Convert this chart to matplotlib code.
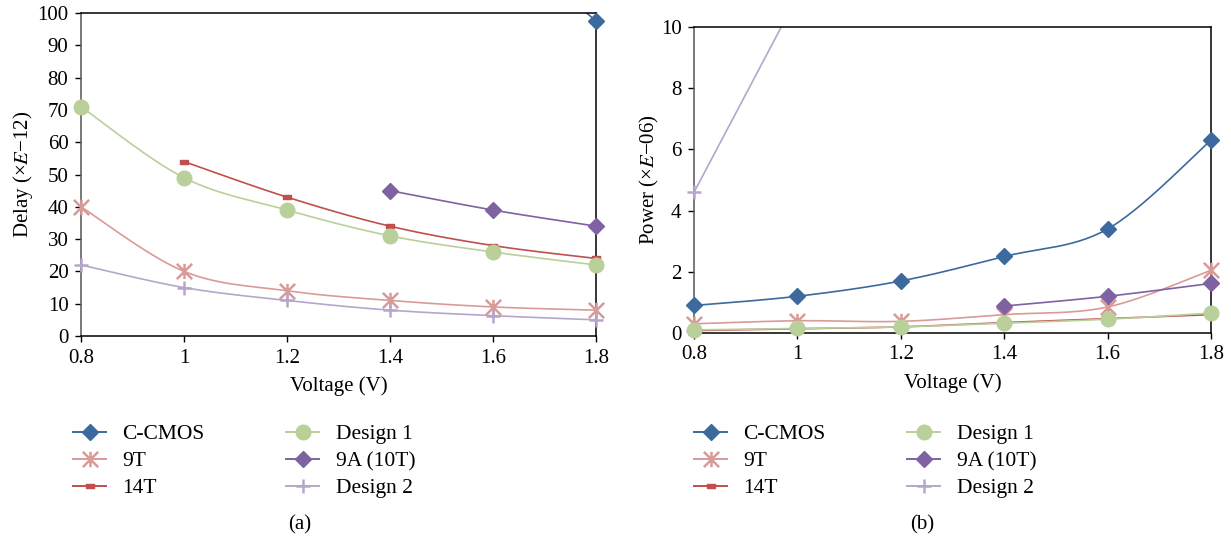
import numpy as np
import matplotlib
matplotlib.use("Agg")
import matplotlib.pyplot as plt
from matplotlib.path import Path

plt.rcParams['font.family'] = ['Liberation Serif', 'DejaVu Serif']
plt.rcParams['mathtext.fontset'] = 'stix'

voltage = [0.8, 1.0, 1.2, 1.4, 1.6, 1.8]
series = ['C-CMOS', '9T', '14T', 'Design 1', '9A (10T)', 'Design 2']

# delay (x E-12), None = no data point
delay = {
    'C-CMOS':   [None, None, None, None, 125, 97.5],
    '9T':       [40, 20, 14, 11, 9, 8],
    '14T':      [None, 54, 43, 34, 28, 24],
    'Design 1': [71, 49, 39, 31, 26, 22],
    '9A (10T)': [None, None, None, 45, 39, 34],
    'Design 2': [22, 15, 11, 8, 6.3, 5],
}

# power (x E-06)
power = {
    'C-CMOS':   [0.9, 1.2, 1.7, 2.5, 3.4, 6.3],
    '9T':       [0.3, 0.4, 0.38, 0.6, 0.85, 2.05],
    '14T':      [0.08, 0.14, 0.2, 0.34, 0.47, 0.6],
    'Design 1': [0.1, 0.15, 0.2, 0.32, 0.45, 0.65],
    '9A (10T)': [None, None, None, 0.88, 1.2, 1.62],
    'Design 2': [4.6, 11.0, None, None, None, None],
}

colors = {
    'C-CMOS': '#3C6A9E', '9T': '#D99A98', '14T': '#C0504D',
    'Design 1': '#B9D09A', '9A (10T)': '#7E62A1', 'Design 2': '#B6A6CB',
}

star = Path([(0, -1), (0, 1), (-1, -1), (1, 1), (-1, 1), (1, -1)],
            [Path.MOVETO, Path.LINETO] * 3)
dash = Path([(-1, -0.55), (1, -0.55), (1, 0.55), (-1, 0.55), (-1, -0.55)],
            [Path.MOVETO, Path.LINETO, Path.LINETO, Path.LINETO, Path.CLOSEPOLY])

mstyle = {
    'C-CMOS':   dict(marker='D', ms=8, mfc=colors['C-CMOS'], mec=colors['C-CMOS']),
    '9T':       dict(marker=star, ms=11, mfc='none', mec=colors['9T'], mew=1.8),
    '14T':      dict(marker=dash, ms=6, mfc=colors['14T'], mec=colors['14T']),
    'Design 1': dict(marker='o', ms=10.5, mfc=colors['Design 1'], mec=colors['Design 1']),
    '9A (10T)': dict(marker='D', ms=8, mfc=colors['9A (10T)'], mec=colors['9A (10T)']),
    'Design 2': dict(marker='+', ms=10, mfc='none', mec=colors['Design 2'], mew=1.8),
}

FS = 15


def smooth(xs, ys, n=30):
    # Catmull-Rom style smoothing like spreadsheet "smoothed line"
    xs = np.asarray(xs, float)
    ys = np.asarray(ys, float)
    if len(xs) < 3:
        return xs, ys
    px = np.concatenate([[xs[0]], xs, [xs[-1]]])
    py = np.concatenate([[ys[0]], ys, [ys[-1]]])
    outx, outy = [], []
    t = np.linspace(0, 1, n)
    for i in range(1, len(px) - 2):
        p0 = np.array([px[i], py[i]])
        p3 = np.array([px[i + 1], py[i + 1]])
        c1 = p0 + (np.array([px[i + 1], py[i + 1]]) - np.array([px[i - 1], py[i - 1]])) / 6
        c2 = p3 - (np.array([px[i + 2], py[i + 2]]) - np.array([px[i], py[i]])) / 6
        b = ((1 - t) ** 3)[:, None] * p0 + (3 * (1 - t) ** 2 * t)[:, None] * c1 \
            + (3 * (1 - t) * t ** 2)[:, None] * c2 + (t ** 3)[:, None] * p3
        outx.extend(b[:, 0])
        outy.extend(b[:, 1])
    return np.array(outx), np.array(outy)


def draw(ax, data, ymax):
    for name in series:
        pts = [(x, y) for x, y in zip(voltage, data[name]) if y is not None]
        xs = [p[0] for p in pts]
        ys = [p[1] for p in pts]
        sx, sy = smooth(xs, ys)
        ax.plot(sx, sy, color=colors[name], lw=1.2, zorder=2)
        vis = [p for p in pts if p[1] <= ymax]
        ax.plot([p[0] for p in vis], [p[1] for p in vis], ls='none', zorder=3,
                clip_on=False, **mstyle[name])


def style(ax):
    ax.set_xlim(0.8, 1.8)
    ax.set_xticks(voltage)
    ax.set_xticklabels(['0.8', '1', '1.2', '1.4', '1.6', '1.8'])
    ax.tick_params(direction='out', length=4, width=1, labelsize=FS, pad=5)
    for s in ax.spines.values():
        s.set_linewidth(1.1)
    ax.spines['left'].set_color('#555555')
    ax.set_xlabel('Voltage (V)', fontsize=FS, labelpad=6)


fig = plt.figure(figsize=(12.31, 5.39), dpi=100)
ax1 = fig.add_axes([0.0658, 0.3766, 0.4184, 0.5993])
ax2 = fig.add_axes([0.5638, 0.3822, 0.4200, 0.5677])

draw(ax1, delay, 100)
style(ax1)
ax1.set_ylim(0, 100)
ax1.set_yticks(range(0, 101, 10))
ax1.set_ylabel('Delay (×$E$−12)', fontsize=FS, labelpad=2)

draw(ax2, power, 10)
style(ax2)
ax2.set_ylim(0, 10)
ax2.set_yticks(range(0, 11, 2))
ax2.set_ylabel('Power (×$E$−06)', fontsize=FS, labelpad=0)


def legend_handles(names):
    hs = []
    for name in names:
        h, = plt.plot([], [], color=colors[name], lw=1.4, **mstyle[name])
        hs.append(h)
    return hs


for x0, x1 in [(73, 286), (694, 907)]:
    for xa, names in [(x0, series[:3]), (x1, series[3:])]:
        fig.legend(legend_handles(names), names, loc='upper left',
                   bbox_to_anchor=(xa / 1231, 1 - 424 / 539), frameon=False,
                   fontsize=FS + 0.5, handlelength=1.55, handletextpad=0.75,
                   labelspacing=0.33, borderpad=0, borderaxespad=0)

fig.text(300 / 1231, 1 - 525 / 539, '(a)', ha='center', va='center', fontsize=FS)
fig.text(922 / 1231, 1 - 525 / 539, '(b)', ha='center', va='center', fontsize=FS)

fig.savefig('out.png', dpi=100)
